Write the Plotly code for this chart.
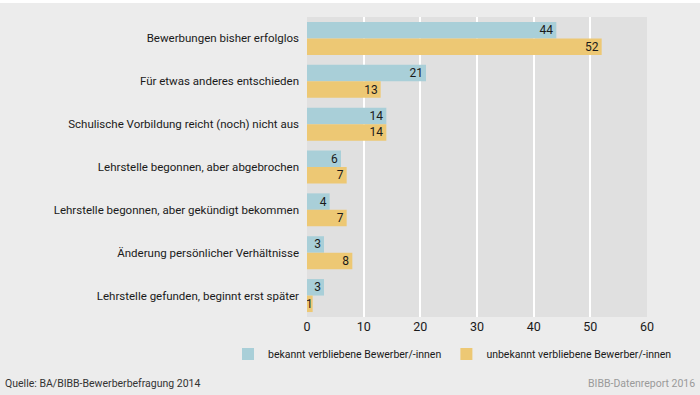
import plotly.graph_objects as go

categories = [
    "Bewerbungen bisher erfolglos",
    "Für etwas anderes entschieden",
    "Schulische Vorbildung reicht (noch) nicht aus",
    "Lehrstelle begonnen, aber abgebrochen",
    "Lehrstelle begonnen, aber gekündigt bekommen",
    "Änderung persönlicher Verhältnisse",
    "Lehrstelle gefunden, beginnt erst später",
]
bekannt = [44, 21, 14, 6, 4, 3, 3]
unbekannt = [52, 13, 14, 7, 7, 8, 1]
series_names = ["bekannt verbliebene Bewerber/-innen", "unbekannt verbliebene Bewerber/-innen"]
x_ticks = [0, 10, 20, 30, 40, 50, 60]

FONT = "Roboto, Liberation Sans, sans-serif"
TXT = "#1a1a1a"

fig = go.Figure()
fig.add_trace(go.Bar(
    y=categories, x=bekannt, name=series_names[0], orientation="h",
    marker=dict(color="#a9cfd8", line=dict(width=0)),
    text=bekannt, textposition="inside", insidetextanchor="end", textangle=0,
    textfont=dict(color=TXT, size=12, family=FONT),
))
fig.add_trace(go.Bar(
    y=categories, x=unbekannt, name=series_names[1], orientation="h",
    marker=dict(color="#edc874", line=dict(width=0)),
    text=unbekannt, textposition="inside", insidetextanchor="end", textangle=0,
    textfont=dict(color=TXT, size=12, family=FONT),
))

fig.update_layout(
    width=700, height=395,
    margin=dict(l=307, r=53, t=17, b=78),
    paper_bgcolor="#ececec",
    plot_bgcolor="#e0e0e0",
    barmode="group",
    bargap=0.23,
    bargroupgap=0.0,
    font=dict(family=FONT, size=12, color=TXT),
    showlegend=True,
    legend=dict(orientation="h", x=(228 - 307) / 340, xanchor="left",
                y=(317 - 354) / 300, yanchor="middle",
                font=dict(size=10.5, family=FONT, color=TXT), bgcolor="rgba(0,0,0,0)",
                itemwidth=30, traceorder="normal"),
    uniformtext=dict(minsize=12, mode="show"),
)
fig.update_xaxes(range=[0, 60], tickvals=x_ticks, showgrid=True, gridcolor="#ffffff",
                 gridwidth=2, zeroline=False, showline=False, ticks="",
                 tickfont=dict(size=12.5, family=FONT, color=TXT))
fig.update_yaxes(autorange="reversed", showgrid=False, ticks="", ticklen=0,
                 ticklabelstandoff=7,
                 tickfont=dict(size=11.5, family=FONT, color=TXT))

fig.add_annotation(text="Quelle: BA/BIBB-Bewerberbefragung 2014", xref="paper", yref="paper",
                   x=-304/340, y=-66/300, xanchor="left", yanchor="middle", showarrow=False,
                   font=dict(size=10.5, family=FONT, color="#333333"))
fig.add_annotation(text="BIBB-Datenreport 2016", xref="paper", yref="paper",
                   x=(697-307)/340, y=-66/300, xanchor="right", yanchor="middle", showarrow=False,
                   font=dict(size=10.5, family=FONT, color="#9a9a9a"))
fig.add_shape(type="rect", xref="paper", yref="paper", x0=-1.0, x1=2.0, y0=1+14/300, y1=1.2,
              fillcolor="#ffffff", line=dict(width=0), layer="below")

fig.write_html("out.html", config={"displayModeBar": False},
               post_script="document.body.style.margin='0';")
